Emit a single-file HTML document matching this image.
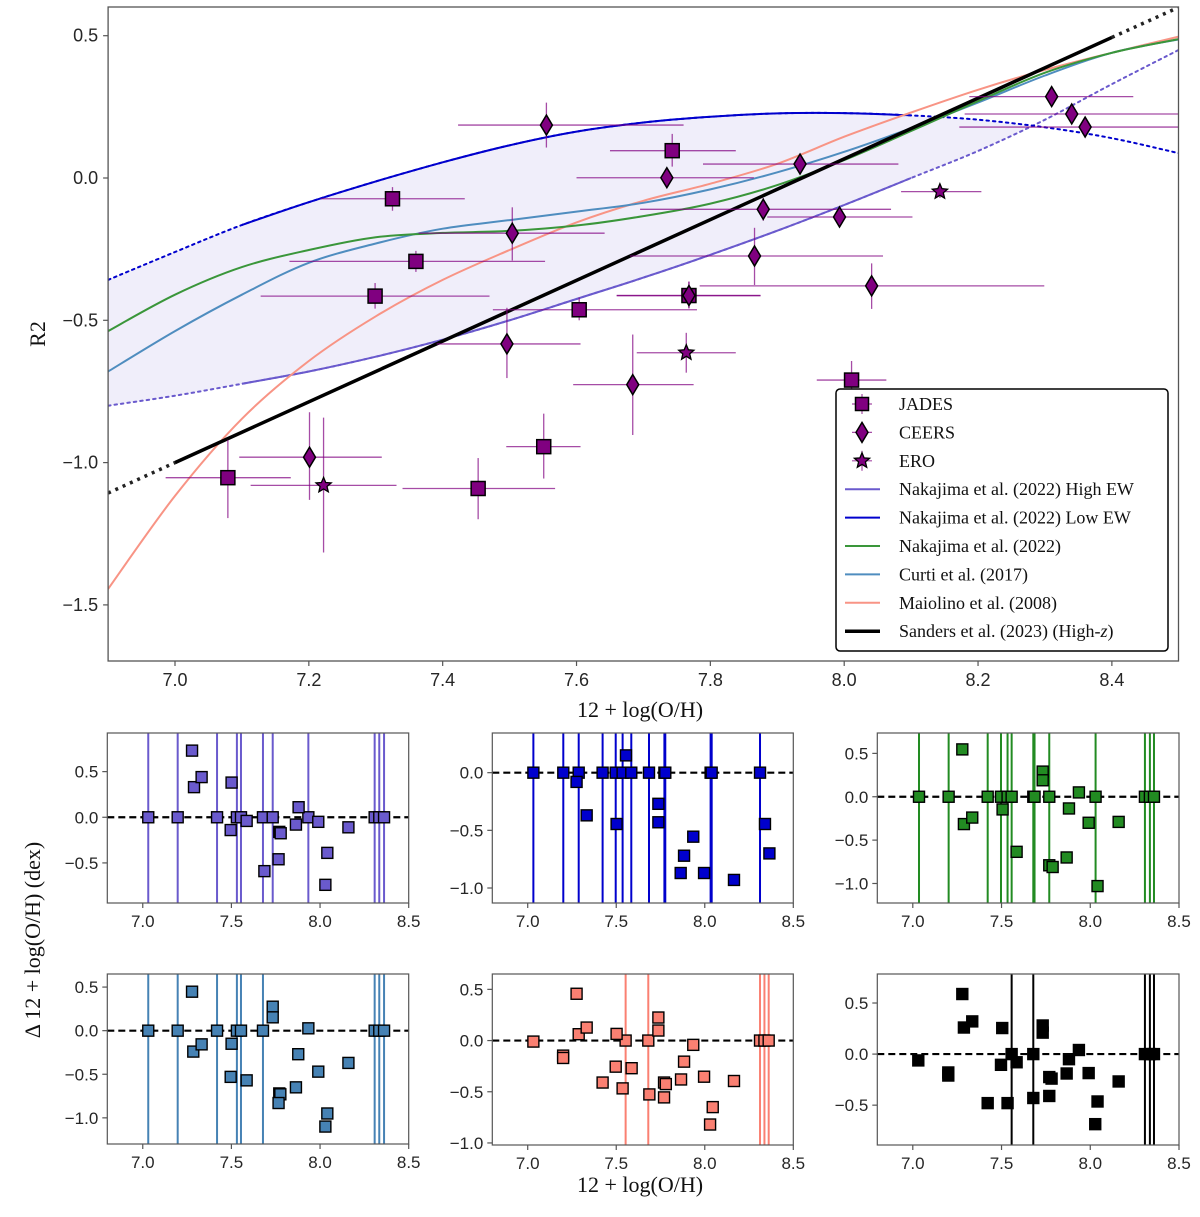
<!DOCTYPE html>
<html><head><meta charset="utf-8"><style>
html,body{margin:0;padding:0;background:#fff}
svg{display:block}
text{font-family:"Liberation Sans",Arial,sans-serif;fill:#262626}
.serif{font-family:"Liberation Serif","Times New Roman",serif;fill:#111}
</style></head><body>
<svg id="fig" width="1200" height="1217" viewBox="0 0 1200 1217" xmlns="http://www.w3.org/2000/svg"></svg>
<script>
// ===== Main plot data =====
const curveX = [6.9,7.0,7.1,7.2,7.3,7.4,7.5,7.6,7.7,7.8,7.9,8.0,8.1,8.2,8.3,8.4,8.5];
const lowEW  = [-0.358,-0.26,-0.165,-0.085,-0.012,0.055,0.115,0.163,0.195,0.215,0.227,0.228,0.22,0.205,0.178,0.14,0.087];
const highEW = [-0.80,-0.765,-0.723,-0.68,-0.628,-0.568,-0.50,-0.425,-0.35,-0.27,-0.185,-0.095,0.0,0.095,0.205,0.33,0.45];
const nak22  = [-0.538,-0.41,-0.313,-0.253,-0.208,-0.193,-0.186,-0.167,-0.134,-0.09,-0.025,0.063,0.165,0.27,0.37,0.44,0.488];
const curti  = [-0.68,-0.538,-0.41,-0.298,-0.23,-0.178,-0.148,-0.118,-0.087,-0.04,0.02,0.092,0.175,0.265,0.36,0.44,0.487];
const maiol  = [-1.444,-1.117,-0.846,-0.643,-0.486,-0.358,-0.253,-0.156,-0.08,-0.02,0.05,0.145,0.23,0.31,0.38,0.44,0.497];
const sandX  = [6.9,7.0,8.4,8.5];
const sandY  = [-1.107,-1.0,0.494,0.6];
const jadesX  = [7.079,7.299,7.325,7.36,7.453,7.551,7.604,7.743,7.768,8.011];
const jadesY  = [-1.053,-0.415,-0.073,-0.293,-1.091,-0.944,-0.463,0.096,-0.413,-0.71];
const jadesXlo= [6.986,7.128,7.218,7.171,7.34,7.495,7.475,7.65,7.66,7.959];
const jadesXhi= [7.173,7.47,7.433,7.553,7.568,7.606,7.78,7.838,7.875,8.063];
const jadesYlo= [-1.195,-0.459,-0.115,-0.33,-1.199,-1.056,-0.5,0.04,-0.458,-0.78];
const jadesYhi= [-0.92,-0.369,-0.032,-0.256,-0.984,-0.828,-0.42,0.155,-0.364,-0.643];
const ceersX  = [7.201,7.496,7.504,7.555,7.684,7.735,7.768,7.866,7.879,7.934,7.993,8.041,8.31,8.34,8.36];
const ceersY  = [-0.981,-0.583,-0.194,0.186,-0.726,0.001,-0.413,-0.274,-0.11,0.049,-0.137,-0.379,0.286,0.225,0.179];
const ceersXlo= [7.096,7.391,7.364,7.423,7.595,7.60,7.66,7.68,7.695,7.789,7.885,7.784,8.187,8.18,8.172];
const ceersXhi= [7.309,7.606,7.642,7.76,7.775,7.865,7.875,8.058,8.07,8.081,8.102,8.299,8.432,8.5,8.5];
const ceersYlo= [-1.131,-0.703,-0.29,0.107,-0.903,-0.03,-0.458,-0.376,-0.15,0.02,-0.17,-0.46,0.25,0.19,0.15];
const ceersYhi= [-0.823,-0.456,-0.103,0.265,-0.55,0.03,-0.364,-0.175,-0.07,0.08,-0.10,-0.30,0.32,0.26,0.21];
const eroX  = [7.222,7.764,8.143];
const eroY  = [-1.08,-0.614,-0.048];
const eroXlo= [7.113,7.69,8.085];
const eroXhi= [7.331,7.838,8.205];
const eroYlo= [-1.316,-0.684,-0.07];
const eroYhi= [-0.842,-0.544,-0.03];
const mainXTicks = [7.0,7.2,7.4,7.6,7.8,8.0,8.2,8.4];
const mainXTickLabels = ["7.0","7.2","7.4","7.6","7.8","8.0","8.2","8.4"];
const mainYTicks = [0.5,0.0,-0.5,-1.0,-1.5];
const mainYTickLabels = ["0.5","0.0","\u22120.5","\u22121.0","\u22121.5"];

// ===== Residual panels data =====
const p1Lines = [7.031,7.197,7.419,7.531,7.554,7.678,7.733,7.934,8.308,8.334,8.361];
const p1X = [7.278,7.289,7.332,7.501,7.496,7.586,7.770,7.778,7.766,7.686,7.864,7.879,7.990,8.041,8.030,8.160];
const p1D = [0.73,0.33,0.44,0.38,-0.14,-0.04,-0.16,-0.175,-0.46,-0.59,-0.08,0.11,-0.05,-0.39,-0.74,-0.11];
const p2Lines = [7.032,7.201,7.288,7.423,7.497,7.536,7.585,7.685,7.772,7.777,8.033,8.039,8.312];
const p2X = [7.555,7.276,7.333,7.502,7.738,7.738,7.935,7.883,7.864,7.996,8.165,8.34,8.365];
const p2D = [0.15,-0.08,-0.37,-0.445,-0.27,-0.43,-0.555,-0.72,-0.87,-0.87,-0.93,-0.445,-0.70];
const p3Lines = [7.035,7.202,7.422,7.497,7.534,7.557,7.679,7.686,7.769,8.030,8.308,8.336,8.359];
const p3X = [7.279,7.732,7.732,7.288,7.335,7.506,7.585,7.769,7.788,7.867,7.88,7.936,7.991,8.16,8.041];
const p3D = [0.546,0.29,0.19,-0.315,-0.24,-0.146,-0.635,-0.79,-0.81,-0.70,-0.135,0.05,-0.30,-0.29,-1.03];
const p4Lines = [7.031,7.197,7.419,7.531,7.554,7.678,8.308,8.334,8.361];
const p4X = [7.278,7.733,7.733,7.934,7.285,7.332,7.501,7.496,7.586,7.877,7.990,8.160,7.864,7.770,7.776,7.766,8.041,8.030];
const p4D = [0.447,0.275,0.153,0.027,-0.24,-0.157,-0.15,-0.53,-0.57,-0.27,-0.47,-0.37,-0.65,-0.72,-0.73,-0.83,-0.95,-1.10];
const p5Lines = [7.553,7.681,8.312,8.337,8.361];
const p5X = [7.032,7.276,7.288,7.333,7.502,7.738,7.738,7.935,7.2,7.2,7.497,7.587,7.423,7.536,7.687,7.77,7.78,7.77,7.866,7.883,7.996,8.165,8.045,8.03];
const p5D = [-0.01,0.457,0.062,0.127,0.065,0.225,0.098,-0.042,-0.147,-0.17,-0.255,-0.27,-0.41,-0.467,-0.526,-0.41,-0.425,-0.555,-0.38,-0.206,-0.353,-0.395,-0.65,-0.82];
const p6Lines = [7.557,7.679,8.308,8.336,8.359];
const p6X = [7.031,7.2,7.2,7.279,7.288,7.335,7.422,7.504,7.497,7.534,7.585,7.679,7.732,7.732,7.769,7.782,7.769,7.867,7.88,7.936,7.991,8.041,8.028,8.16];
const p6D = [-0.062,-0.18,-0.21,0.588,0.26,0.32,-0.48,0.255,-0.105,-0.48,-0.08,-0.43,0.28,0.21,-0.225,-0.24,-0.41,-0.19,-0.05,0.04,-0.186,-0.464,-0.686,-0.268];
const panelXTicks = [7.0,7.5,8.0,8.5];
const panelXTickLabels = ["7.0","7.5","8.0","8.5"];

// ===== drawing =====
const NS = "http://www.w3.org/2000/svg";
const svg = document.getElementById("fig");
function el(tag, attrs, parent) {
  const e = document.createElementNS(NS, tag);
  for (const k in attrs) e.setAttribute(k, attrs[k]);
  (parent || svg).appendChild(e);
  return e;
}
function txt(s, attrs, parent) { const t = el("text", attrs, parent); t.textContent = s; return t; }

const MX0 = 108.1, MX1 = 1178.5, MY0 = 7, MY1 = 661;
const mx = v => 175 + (v - 7.0) * 669.2;
const my = v => 178 - v * 284.6;

function crPath(pts) {
  let d = "M" + pts[0][0].toFixed(1) + "," + pts[0][1].toFixed(1);
  for (let i = 0; i < pts.length - 1; i++) {
    const p0 = pts[Math.max(0, i - 1)], p1 = pts[i], p2 = pts[i + 1], p3 = pts[Math.min(pts.length - 1, i + 2)];
    const c1x = p1[0] + (p2[0] - p0[0]) / 6, c1y = p1[1] + (p2[1] - p0[1]) / 6;
    const c2x = p2[0] - (p3[0] - p1[0]) / 6, c2y = p2[1] - (p3[1] - p1[1]) / 6;
    d += " C" + c1x.toFixed(1) + "," + c1y.toFixed(1) + " " + c2x.toFixed(1) + "," + c2y.toFixed(1) + " " + p2[0].toFixed(1) + "," + p2[1].toFixed(1);
  }
  return d;
}
function ptsOf(xs, ys, lo, hi) {
  const r = [];
  for (let i = 0; i < xs.length; i++) if (xs[i] >= lo - 1e-9 && xs[i] <= hi + 1e-9) r.push([mx(xs[i]), my(ys[i])]);
  return r;
}

const mainG = el("g", {});


el("defs", {}, mainG).innerHTML = '<clipPath id="mclip"><rect x="' + MX0 + '" y="' + MY0 + '" width="' + (MX1 - MX0) + '" height="' + (MY1 - MY0) + '"/></clipPath>';
const plotG = el("g", { "clip-path": "url(#mclip)" }, mainG);

{
  const top = [], bot = [];
  for (let i = 0; i < curveX.length; i++) {
    if (lowEW[i] >= highEW[i]) { top.push([mx(curveX[i]), my(lowEW[i])]); bot.push([mx(curveX[i]), my(highEW[i])]); }
  }
  const i = top.length - 1;
  if (i + 1 < curveX.length) {
    const a = lowEW[i] - highEW[i], b = lowEW[i + 1] - highEW[i + 1];
    const t = a / (a - b);
    const xc = curveX[i] + t * (curveX[i + 1] - curveX[i]);
    const yc = lowEW[i] + t * (lowEW[i + 1] - lowEW[i]);
    top.push([mx(xc), my(yc)]); bot.push([mx(xc), my(yc)]);
  }
  const d = crPath(top) + " L" + crPath(bot.slice().reverse()).slice(1) + " Z";
  const f = el("path", { d: d, fill: "#6a5acd", "fill-opacity": "0.1", stroke: "none" }, plotG);
  
  
}

function curve(xs, ys, color, w, name, solidLo, solidHi, dotted) {
  if (dotted) {
    const p = el("path", { d: crPath(ptsOf(xs, ys, -99, 99)), fill: "none", stroke: color, "stroke-width": w, "stroke-dasharray": "2.5,4", "stroke-linecap": "round" }, plotG);
    
    
  }
  const s = el("path", { d: crPath(ptsOf(xs, ys, solidLo, solidHi)), fill: "none", stroke: color, "stroke-width": w }, plotG);
  
  
}
curve(curveX, highEW, "#6a5acd", 2, "nakajima-high-ew-curve", 7.1, 8.1, true);
curve(curveX, lowEW, "#0000cd", 2, "nakajima-low-ew-curve", 7.1, 8.1, true);
curve(curveX, maiol, "#f89485", 2, "maiolino-curve", 6.9, 8.5, false);
curve(curveX, curti, "#4f8dbf", 2, "curti-curve", 6.9, 8.5, false);
curve(curveX, nak22, "#3a963a", 2, "nakajima-curve", 6.9, 8.5, false);
{
  const d = el("path", { d: "M" + mx(sandX[0]) + "," + my(sandY[0]) + " L" + mx(sandX[1]) + "," + my(sandY[1]) + " M" + mx(sandX[2]) + "," + my(sandY[2]) + " L" + mx(sandX[3]) + "," + my(sandY[3]), fill: "none", stroke: "#222", "stroke-width": 3.5, "stroke-dasharray": "3,5" }, plotG);
  
  
  const s = el("line", { x1: mx(sandX[1]), y1: my(sandY[1]), x2: mx(sandX[2]), y2: my(sandY[2]), stroke: "#000", "stroke-width": 3.5 }, plotG);
  
  
}

function errbars(X, Y, XL, XH, YL, YH, name) {
  for (let i = 0; i < X.length; i++) {
    const g = el("g", { stroke: "#800080", "stroke-width": 1.3, "stroke-opacity": 0.7 }, plotG);
    
    
    el("line", { x1: mx(XL[i]), x2: mx(XH[i]), y1: my(Y[i]), y2: my(Y[i]) }, g);
    el("line", { x1: mx(X[i]), x2: mx(X[i]), y1: my(YL[i]), y2: my(YH[i]) }, g);
  }
}
errbars(jadesX, jadesY, jadesXlo, jadesXhi, jadesYlo, jadesYhi, "jades");
errbars(ceersX, ceersY, ceersXlo, ceersXhi, ceersYlo, ceersYhi, "ceers");
errbars(eroX, eroY, eroXlo, eroXhi, eroYlo, eroYhi, "ero");

function squareM(cx, cy, s, parent) { return el("rect", { x: cx - s / 2, y: cy - s / 2, width: s, height: s, fill: "#800080", stroke: "#000", "stroke-width": 1.5 }, parent); }
function diamondM(cx, cy, parent) { return el("path", { d: `M${cx},${cy - 10} L${cx + 6},${cy} L${cx},${cy + 10} L${cx - 6},${cy} Z`, fill: "#800080", stroke: "#000", "stroke-width": 1.5 }, parent); }
function starM(cx, cy, r, parent) {
  let d = "";
  for (let k = 0; k < 10; k++) {
    const a = -Math.PI / 2 + k * Math.PI / 5, rr = k % 2 ? r * 0.45 : r;
    d += (k ? "L" : "M") + (cx + rr * Math.cos(a)).toFixed(1) + "," + (cy + rr * Math.sin(a)).toFixed(1);
  }
  return el("path", { d: d + "Z", fill: "#800080", stroke: "#000", "stroke-width": 1.3 }, parent);
}
for (let i = 0; i < jadesX.length; i++) {
  const m = squareM(mx(jadesX[i]), my(jadesY[i]), 14, plotG);
  
  
}
for (let i = 0; i < ceersX.length; i++) {
  const m = diamondM(mx(ceersX[i]), my(ceersY[i]), plotG);
  
  
}
for (let i = 0; i < eroX.length; i++) {
  const m = starM(mx(eroX[i]), my(eroY[i]), 8, plotG);
  
  
}

{
  const fr = el("rect", { x: MX0, y: MY0, width: MX1 - MX0, height: MY1 - MY0, fill: "none", stroke: "#555", "stroke-width": 1.3 }, mainG);
  
  
  for (let i = 0; i < mainXTicks.length; i++) {
    const x = mx(mainXTicks[i]);
    el("line", { x1: x, x2: x, y1: MY1, y2: MY1 + 5, stroke: "#555", "stroke-width": 1.2 }, mainG);
    const t = txt(mainXTickLabels[i], { x: x, y: MY1 + 25, "text-anchor": "middle", "font-size": 18 }, mainG);
    
    
  }
  for (let i = 0; i < mainYTicks.length; i++) {
    const y = my(mainYTicks[i]);
    el("line", { x1: MX0 - 5, x2: MX0, y1: y, y2: y, stroke: "#555", "stroke-width": 1.2 }, mainG);
    const t = txt(mainYTickLabels[i], { x: MX0 - 10, y: y + 6, "text-anchor": "end", "font-size": 18 }, mainG);
    
    
  }
  const xl = txt("12 + log(O/H)", { x: 640, y: 717, "text-anchor": "middle", "font-size": 22, class: "serif" }, mainG);
  
  
  const yl = txt("R2", { x: 0, y: 0, transform: "translate(45,334) rotate(-90)", "text-anchor": "middle", "font-size": 22, class: "serif" }, mainG);
  
  
}

{
  const lg = el("g", {}, mainG);
  
  
  el("rect", { x: 836, y: 389, width: 332, height: 262, rx: 4, fill: "#fff", stroke: "#000", "stroke-width": 1.5 }, lg);
  const entries = [
    ["JADES", "sq"], ["CEERS", "di"], ["ERO", "st"],
    ["Nakajima et al. (2022) High EW", "#6a5acd"], ["Nakajima et al. (2022) Low EW", "#0000cd"],
    ["Nakajima et al. (2022)", "#3a963a"], ["Curti et al. (2017)", "#4f8dbf"],
    ["Maiolino et al. (2008)", "#f89485"], ["Sanders et al. (2023) (High-", "#000"]
  ];
  for (let i = 0; i < entries.length; i++) {
    const y = 404 + i * 28.4;
    const g = el("g", {}, lg);
    
    
    const k = entries[i][1];
    if (k === "sq" || k === "di" || k === "st") {
      el("line", { x1: 852, x2: 872, y1: y, y2: y, stroke: "#800080", "stroke-width": 1.2, "stroke-opacity": 0.7 }, g);
      el("line", { x1: 862, x2: 862, y1: y - 10, y2: y + 10, stroke: "#800080", "stroke-width": 1.2, "stroke-opacity": 0.7 }, g);
      if (k === "sq") squareM(862, y, 13, g); else if (k === "di") diamondM(862, y, g); else starM(862, y, 8, g);
    } else {
      el("line", { x1: 845, x2: 880, y1: y, y2: y, stroke: k, "stroke-width": k === "#000" ? 3.5 : 2 }, g);
    }
    const t = txt(entries[i][0], { x: 899, y: y + 6, "font-size": 18, class: "serif" }, g);
    if (i === entries.length - 1) {
      const ts = el("tspan", { "font-style": "italic" }, t); ts.textContent = "z";
      const ts2 = el("tspan", {}, t); ts2.textContent = ")";
    }
  }
}

const panels = [
  { name: "high-ew", x0: 107.3, x1: 408.7, y0: 733, y1: 903, top: 0.923, bot: -0.939, color: "#6a5acd", lines: p1Lines, X: p1X, D: p1D, yt: [0.5, 0, -0.5] },
  { name: "low-ew", x0: 492.3, x1: 793.3, y0: 733, y1: 903, top: 0.344, bot: -1.13, color: "#0000cd", lines: p2Lines, X: p2X, D: p2D, yt: [0, -0.5, -1.0] },
  { name: "nakajima", x0: 877.3, x1: 1179, y0: 733, y1: 903, top: 0.735, bot: -1.225, color: "#228b22", lines: p3Lines, X: p3X, D: p3D, yt: [0.5, 0, -0.5, -1.0] },
  { name: "curti", x0: 107.3, x1: 408.7, y0: 974, y1: 1144, top: 0.65, bot: -1.30, color: "#4682b4", lines: p4Lines, X: p4X, D: p4D, yt: [0.5, 0, -0.5, -1.0] },
  { name: "maiolino", x0: 492.3, x1: 793.3, y0: 974, y1: 1145, top: 0.65, bot: -1.02, color: "#fa8072", lines: p5Lines, X: p5X, D: p5D, yt: [0.5, 0, -0.5, -1.0] },
  { name: "sanders", x0: 877.3, x1: 1179, y0: 974, y1: 1145, top: 0.784, bot: -0.89, color: "#000", lines: p6Lines, X: p6X, D: p6D, yt: [0.5, 0, -0.5] }
];
function fmt(v) { return (v < 0 ? "\u2212" : "") + Math.abs(v).toFixed(1); }
panels.forEach((p, idx) => {
  const g = el("g", {});
  
  
  const px = v => p.x0 + (v - 6.8) / 1.7 * (p.x1 - p.x0);
  const py = v => p.y0 + (p.top - v) / (p.top - p.bot) * (p.y1 - p.y0);
  el("defs", {}, g).innerHTML = '<clipPath id="pc' + idx + '"><rect x="' + p.x0 + '" y="' + p.y0 + '" width="' + (p.x1 - p.x0) + '" height="' + (p.y1 - p.y0) + '"/></clipPath>';
  const c = el("g", { "clip-path": "url(#pc" + idx + ")" }, g);
  for (const lx of p.lines) {
    const l = el("line", { x1: px(lx), x2: px(lx), y1: p.y0, y2: p.y1, stroke: p.color, "stroke-width": 2 }, c);
    
    
  }
  const z = el("line", { x1: p.x0, x2: p.x1, y1: py(0), y2: py(0), stroke: "#000", "stroke-width": 2.2, "stroke-dasharray": "7,4" }, c);
  
  
  for (const lx of p.lines) {
    const s = el("rect", { x: px(lx) - 5.5, y: py(0) - 5.5, width: 11, height: 11, fill: p.color, stroke: "#000", "stroke-width": 1.4 }, c);
    
    
  }
  for (let i = 0; i < p.X.length; i++) {
    const s = el("rect", { x: px(p.X[i]) - 5.5, y: py(p.D[i]) - 5.5, width: 11, height: 11, fill: p.color, stroke: "#000", "stroke-width": 1.4 }, c);
    
    
  }
  el("rect", { x: p.x0, y: p.y0, width: p.x1 - p.x0, height: p.y1 - p.y0, fill: "none", stroke: "#555", "stroke-width": 1.2 }, g);
  for (let i = 0; i < panelXTicks.length; i++) {
    const x = px(panelXTicks[i]);
    el("line", { x1: x, x2: x, y1: p.y1, y2: p.y1 + 5, stroke: "#555", "stroke-width": 1.2 }, g);
    const t = txt(panelXTickLabels[i], { x: x, y: p.y1 + 24, "text-anchor": "middle", "font-size": 17 }, g);
    
    
  }
  for (const v of p.yt) {
    const y = py(v);
    el("line", { x1: p.x0 - 5, x2: p.x0, y1: y, y2: y, stroke: "#555", "stroke-width": 1.2 }, g);
    const t = txt(fmt(v), { x: p.x0 - 9, y: y + 6, "text-anchor": "end", "font-size": 17 }, g);
    
    
  }
});
{
  const t = txt("12 + log(O/H)", { x: 640, y: 1192, "text-anchor": "middle", "font-size": 22, class: "serif" });
  
  
  const y = txt("\u0394 12 + log(O/H) (dex)", { x: 0, y: 0, transform: "translate(40,940) rotate(-90)", "text-anchor": "middle", "font-size": 22, class: "serif" });
  
  
}
</script>
</body></html>
